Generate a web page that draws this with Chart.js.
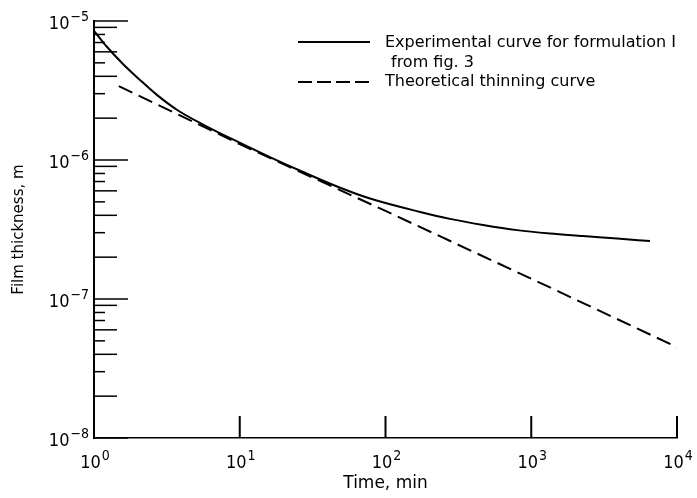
<!DOCTYPE html>
<html>
<head>
<meta charset="utf-8">
<script src="https://cdn.jsdelivr.net/npm/chart.js@4"></script>
<style>
  html, body { margin: 0; padding: 0; background: #fff; }
  #wrap { width: 697px; height: 498px; }
</style>
</head>
<body>
<div id="wrap"><canvas id="myChart" width="697" height="498"></canvas></div>
<script>
// values (time in min, thickness in m)
const expTime = [1, 1.23, 1.58, 2.07, 2.7, 3.77, 5.6, 9.57, 16.1, 27.2, 46.5, 78.3, 173, 277, 467, 798, 1345, 2265, 3875, 6530];
const expThick = [8.5e-6, 6.5e-6, 4.91e-6, 3.76e-6, 2.94e-6, 2.27e-6, 1.8e-6, 1.36e-6, 1.05e-6, 8.2e-7, 6.45e-7, 5.28e-7, 4.23e-7, 3.77e-7, 3.41e-7, 3.13e-7, 2.96e-7, 2.84e-7, 2.72e-7, 2.61e-7];
const theoTime = [1.48, 10, 100, 1000, 10000];
const theoThick = [3.4e-6, 1.3e-6, 4.3e-7, 1.4e-7, 4.5e-8];
const xDecades = [0, 1, 2, 3, 4];
const yDecades = [-5, -6, -7, -8];
const legendLabels = [['Experimental curve for formulation I', 'from fig. 3'], ['Theoretical thinning curve']];

const COND = '"DejaVu Sans Condensed", "Liberation Sans Narrow", "DejaVu Sans", sans-serif';
const FONT = '"DejaVu Sans", sans-serif';

// draws 10 with a raised exponent
function drawPow(ctx, exp, x, y, align) {
  const base = '10', sup = String(exp).replace('-', '\u2212');
  ctx.font = '18px ' + COND;
  const wb = ctx.measureText(base).width;
  ctx.font = '14px ' + COND;
  const ws = ctx.measureText(sup).width;
  let left = align === 'right' ? x - wb - ws - 1 : x - (wb + ws + 1) / 2;
  ctx.textAlign = 'left';
  ctx.textBaseline = 'alphabetic';
  ctx.font = '18px ' + COND;
  ctx.fillText(base, left, y);
  ctx.font = '14px ' + COND;
  ctx.fillText(sup, left + wb + 1, y - 8);
}

const axisMarks = {
  id: 'axisMarks',
  afterDraw(chart) {
    const ctx = chart.ctx;
    const xs = chart.scales.x, ys = chart.scales.y;
    const a = chart.chartArea;
    ctx.save();
    ctx.strokeStyle = '#000';
    ctx.fillStyle = '#000';
    // y ticks, pointing into the plot
    const minorLen = {2: 23, 3: 11, 4: 23, 5: 11, 6: 23, 7: 11, 8: 11, 9: 23};
    ctx.lineWidth = 1.5;
    yDecades.forEach(d => {
      const yp = ys.getPixelForValue(Math.pow(10, d));
      ctx.beginPath(); ctx.moveTo(a.left, yp); ctx.lineTo(a.left + 34, yp); ctx.stroke();
      if (d > -8) {
        for (let m = 2; m <= 9; m++) {
          const v = m * Math.pow(10, d - 1);
          const p = ys.getPixelForValue(v);
          ctx.beginPath(); ctx.moveTo(a.left, p); ctx.lineTo(a.left + minorLen[m], p); ctx.stroke();
        }
      }
      drawPow(ctx, d, a.left - 5, yp + 8, 'right');
    });
    // x ticks, pointing up
    ctx.lineWidth = 2;
    xDecades.forEach(d => {
      const xp = xs.getPixelForValue(Math.pow(10, d));
      if (d > 0) {
        ctx.beginPath(); ctx.moveTo(xp, a.bottom); ctx.lineTo(xp, a.bottom - 22); ctx.stroke();
      }
      drawPow(ctx, d, xp + 1, a.bottom + 30, 'center');
    });
    // legend
    ctx.lineWidth = 2;
    ctx.beginPath(); ctx.moveTo(298, 42); ctx.lineTo(370, 42); ctx.stroke();
    ctx.setLineDash([14, 5]);
    ctx.beginPath(); ctx.moveTo(298, 82); ctx.lineTo(370, 82); ctx.stroke();
    ctx.setLineDash([]);
    ctx.font = '16px ' + FONT;
    ctx.textAlign = 'left';
    ctx.textBaseline = 'middle';
    ctx.fillText(legendLabels[0][0], 385, 43);
    ctx.fillText(legendLabels[0][1], 391, 63);
    ctx.fillText(legendLabels[1][0], 385, 82);
    ctx.restore();
  }
};

const ctx = document.getElementById('myChart').getContext('2d');
new Chart(ctx, {
  type: 'line',
  data: {
    datasets: [
      {
        label: legendLabels[0].join(' '),
        data: expTime.map((t, i) => ({ x: t, y: expThick[i] })),
        borderColor: '#000',
        borderWidth: 2,
        pointRadius: 0,
        cubicInterpolationMode: 'monotone',
        fill: false
      },
      {
        label: legendLabels[1][0],
        data: theoTime.map((t, i) => ({ x: t, y: theoThick[i] })),
        borderColor: '#000',
        borderWidth: 2,
        borderDash: [15, 7],
        pointRadius: 0,
        fill: false
      }
    ]
  },
  options: {
    responsive: false,
    animation: false,
    layout: { padding: { top: 21, right: 20, left: 0, bottom: 0 } },
    plugins: { legend: { display: false }, tooltip: { enabled: false } },
    scales: {
      x: {
        type: 'logarithmic',
        min: 1, max: 10000,
        grid: { display: false },
        border: { color: '#000', width: 1.5 },
        ticks: { display: false },
        title: { display: true, text: 'Time, min', color: '#000', font: { family: FONT, size: 17 }, padding: { top: 0, bottom: 4 } },
        afterFit(scale) { scale.height = 60; }
      },
      y: {
        type: 'logarithmic',
        min: 1e-8, max: 1e-5,
        grid: { display: false },
        border: { color: '#000', width: 2 },
        ticks: { display: false },
        title: { display: true, text: 'Film thickness, m', color: '#000', font: { family: FONT, size: 15 }, padding: { top: 10, bottom: 0 } },
        afterFit(scale) { scale.width = 94; }
      }
    }
  },
  plugins: [axisMarks]
});
</script>
</body>
</html>
